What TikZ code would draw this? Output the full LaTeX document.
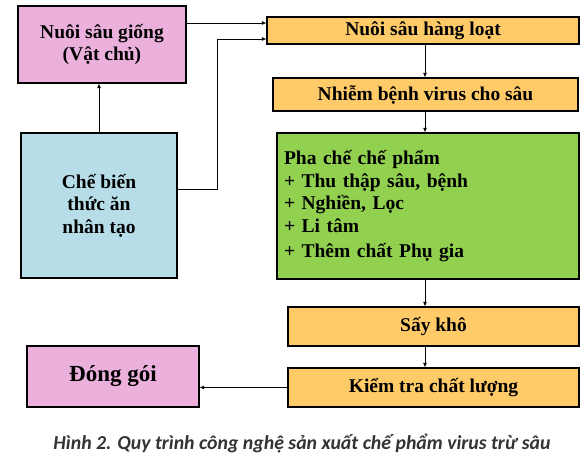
\documentclass[tikz,border=0pt]{standalone}
\usepackage{fontspec}
\setmainfont{Liberation Serif}
\newfontfamily\capfont{Carlito}
\usetikzlibrary{arrows.meta}
\definecolor{pinkbox}{HTML}{EBB0DC}
\definecolor{bluebox}{HTML}{B7DEE8}
\definecolor{orangebox}{HTML}{FFCB69}
\definecolor{greenbox}{HTML}{92D050}
\definecolor{capgray}{HTML}{333333}
\tikzset{
  box/.style={draw=black, line width=1.1pt, inner sep=0pt, font=\fontsize{19.5}{22.5}\selectfont\bfseries, align=center},
  conn/.style={line width=0.8pt, -{Latex[length=4.5pt,width=4pt]}},
}
\begin{document}
\begin{tikzpicture}[x=1pt,y=-1pt]
\useasboundingbox (0,0) rectangle (583,457);
\fill[white] (0,0) rectangle (583,457);
% nodes
\node[box, fill=pinkbox, minimum width=168pt, minimum height=77pt] (nsg) at (102,44.5) {Nuôi sâu giống\\(Vật chủ)};
\node[box, fill=bluebox, minimum width=156pt, minimum height=145pt] (cb) at (99,205.5) {Chế biến\\thức ăn\\nhân tạo};
\node[box, fill=orangebox, minimum width=312pt, minimum height=27pt] (nhl) at (423,30.5) {Nuôi sâu hàng loạt};
\node[box, fill=orangebox, minimum width=305pt, minimum height=33pt] (nb) at (425.5,94.5) {Nhiễm bệnh virus cho sâu};
\node[box, fill=greenbox, minimum width=302pt, minimum height=146pt, align=left, text width=288pt, inner xsep=7pt] (pc) at (428,206) {Pha chế chế phẩm\\+ Thu thập sâu, bệnh\\+ Nghiền, Lọc\\+ Li tâm\\[2.5pt]+ Thêm chất Phụ gia};
\node[box, fill=orangebox, minimum width=291pt, minimum height=39pt] (sk) at (433.5,326.5) {Sấy khô};
\node[box, fill=orangebox, minimum width=291pt, minimum height=39pt] (kt) at (433.5,387.5) {Kiểm tra chất lượng};
\node[box, fill=pinkbox, minimum width=172pt, minimum height=61pt, font=\fontsize{23}{26}\selectfont\bfseries] (dg) at (113,376.5) {Đóng gói};
\node[font=\fontsize{19.8}{22}\selectfont\capfont\bfseries\itshape, text=capgray] (cap) at (302,443) {Hình 2. Quy trình công nghệ sản xuất chế phẩm virus trừ sâu};
% helper coordinates
\coordinate (colx) at (425,0);
\coordinate (y1) at (0,23);
\coordinate (y2) at (0,39);
\coordinate (ycb) at (0,189);
\coordinate (xbend) at (217,0);
% connectors
\draw[conn] (cb.north) -- (cb.north |- nsg.south);
\draw[conn] (nsg.east |- y1) -- (nhl.west |- y1);
\draw[conn] (cb.east |- ycb) -- (xbend |- ycb) -- (xbend |- y2) -- (nhl.west |- y2);
\draw[conn] (nhl.south -| colx) -- (nb.north -| colx);
\draw[conn] (nb.south -| colx) -- (pc.north -| colx);
\draw[conn] (pc.south -| colx) -- (sk.north -| colx);
\draw[conn] (sk.south -| colx) -- (kt.north -| colx);
\draw[conn] (kt.west) -- (kt.west -| dg.east);
\end{tikzpicture}
\end{document}
